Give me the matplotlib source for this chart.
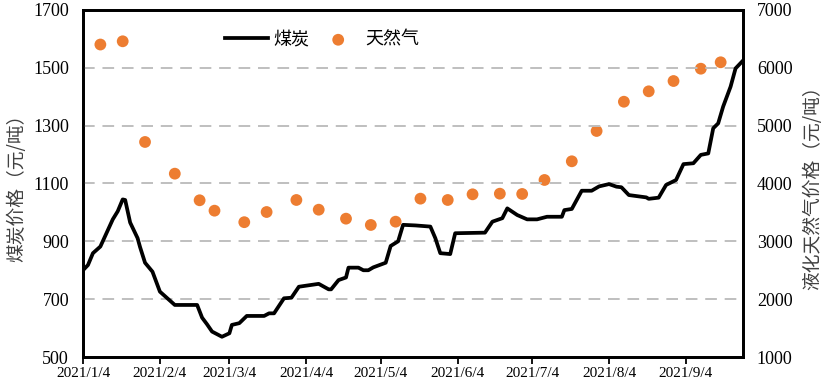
import matplotlib
matplotlib.use("Agg")
import matplotlib.pyplot as plt
import numpy as np
import pandas as pd

# ---------------- data ----------------
coal_dates = ["2021-01-04", "2021-01-06", "2021-01-08", "2021-01-11", "2021-01-16", "2021-01-18",
              "2021-01-20", "2021-01-21", "2021-01-23", "2021-01-26", "2021-01-27", "2021-01-29",
              "2021-02-01", "2021-02-04", "2021-02-07", "2021-02-10", "2021-02-19", "2021-02-21",
              "2021-02-23", "2021-02-25", "2021-03-01", "2021-03-04", "2021-03-05", "2021-03-08",
              "2021-03-11", "2021-03-18", "2021-03-20", "2021-03-22", "2021-03-26", "2021-03-29",
              "2021-04-01", "2021-04-09", "2021-04-13", "2021-04-14", "2021-04-17", "2021-04-20",
              "2021-04-21", "2021-04-25", "2021-04-27", "2021-04-29", "2021-05-01", "2021-05-06",
              "2021-05-08", "2021-05-11", "2021-05-13", "2021-05-18", "2021-05-24", "2021-05-26",
              "2021-05-28", "2021-06-01", "2021-06-03", "2021-06-15", "2021-06-18", "2021-06-22",
              "2021-06-24", "2021-06-28", "2021-07-02", "2021-07-06", "2021-07-10", "2021-07-16",
              "2021-07-17", "2021-07-20", "2021-07-24", "2021-07-28", "2021-07-31", "2021-08-04",
              "2021-08-07", "2021-08-09", "2021-08-12", "2021-08-19", "2021-08-20", "2021-08-24",
              "2021-08-27", "2021-08-31", "2021-09-03", "2021-09-07", "2021-09-10", "2021-09-13",
              "2021-09-15", "2021-09-17", "2021-09-19", "2021-09-22", "2021-09-24", "2021-09-27"]
coal_price = [800, 818, 859, 882, 976, 1004,
              1045, 1043, 965, 911, 880, 826,
              795, 726, 703, 680, 680, 636,
              613, 588, 570, 582, 611, 617,
              642, 642, 651, 651, 703, 705,
              743, 753, 734, 734, 766, 775,
              809, 809, 800, 800, 810, 826,
              884, 900, 957, 955, 951, 911,
              859, 856, 928, 930, 968, 980,
              1014, 991, 976, 976, 985, 985,
              1008, 1012, 1075, 1075, 1090, 1098,
              1089, 1087, 1060, 1052, 1047, 1051,
              1095, 1112, 1167, 1170, 1199, 1204,
              1291, 1308, 1366, 1435, 1498, 1525]

lng_dates = ["2021-01-11", "2021-01-20", "2021-01-29", "2021-02-10", "2021-02-20", "2021-02-26",
             "2021-03-10", "2021-03-19", "2021-03-31", "2021-04-09", "2021-04-20", "2021-04-30",
             "2021-05-10", "2021-05-20", "2021-05-31", "2021-06-10", "2021-06-21", "2021-06-30",
             "2021-07-09", "2021-07-20", "2021-07-30", "2021-08-10", "2021-08-20", "2021-08-30",
             "2021-09-10", "2021-09-18"]
lng_price = [6403, 6459, 4718, 4170, 3710, 3530,
             3331, 3507, 3715, 3547, 3392, 3283,
             3340, 3738, 3715, 3813, 3824, 3819,
             4061, 4384, 4908, 5414, 5594, 5772,
             5985, 6096]

x_tick_dates = ["2021-01-04", "2021-02-04", "2021-03-04", "2021-04-04", "2021-05-04",
                "2021-06-04", "2021-07-04", "2021-08-04", "2021-09-04"]
x_tick_labels = ["2021/1/4", "2021/2/4", "2021/3/4", "2021/4/4", "2021/5/4",
                 "2021/6/4", "2021/7/4", "2021/8/4", "2021/9/4"]
left_ticks = [500, 700, 900, 1100, 1300, 1500, 1700]
right_ticks = [1000, 2000, 3000, 4000, 5000, 6000, 7000]

# ---------------- plot ----------------
cjk = ["Noto Sans CJK SC", "DejaVu Sans"]
serif = "Liberation Serif"

fig = plt.figure(figsize=(8.25, 3.85), dpi=100)
ax = fig.add_axes([83/825, 1 - 357/385, 660/825, 347/385])
ax2 = ax.twinx()

cd = pd.to_datetime(coal_dates)
ld = pd.to_datetime(lng_dates)

ax.set_ylim(500, 1700)
ax2.set_ylim(1000, 7000)
ax.set_xlim(pd.Timestamp("2021-01-04"), pd.Timestamp("2021-09-27"))

for v in [700, 900, 1100, 1300, 1500]:
    ax.axhline(v, color="#BFBFBF", lw=1.4, dashes=(6, 4), zorder=0)

line, = ax.plot(cd, coal_price, color="black", lw=2.7, zorder=3, solid_joinstyle="round")
sc = ax2.scatter(ld, lng_price, s=72, color="#ED7D31", edgecolors="none", zorder=2)

ax.set_zorder(ax2.get_zorder() + 1)
ax.patch.set_visible(False)

ax.set_yticks(left_ticks)
ax.set_yticklabels([str(t) for t in left_ticks], fontfamily=serif, fontsize=13)
ax2.set_yticks(right_ticks)
ax2.set_yticklabels([str(t) for t in right_ticks], fontfamily=serif, fontsize=13)
ax.set_xticks(pd.to_datetime(x_tick_dates))
ax.set_xticklabels(x_tick_labels, fontfamily=serif, fontsize=11)

ax.tick_params(axis="y", length=0, pad=10)
ax2.tick_params(axis="y", length=0, pad=10)
ax.tick_params(axis="x", length=5, width=1.3, direction="out", pad=2.5)

for a in (ax, ax2):
    for s in a.spines.values():
        s.set_linewidth(2)
        s.set_color("black")

ax.set_ylabel("煤炭价格（元/吨）", fontfamily=cjk, fontsize=13.5, color="#404040", labelpad=4)
ax2.set_ylabel("液化天然气价格（元/吨）", fontfamily=cjk, fontsize=13.5, color="#404040",
               labelpad=7)

leg = ax.legend([line, sc], ["煤炭", "天然气"], ncol=2, frameon=False,
                loc="center", bbox_to_anchor=(0.362, 0.915),
                prop={"family": cjk, "size": 13}, handlelength=2.4,
                columnspacing=0.4, handletextpad=0.3)

fig.savefig("out.png", dpi=100)
